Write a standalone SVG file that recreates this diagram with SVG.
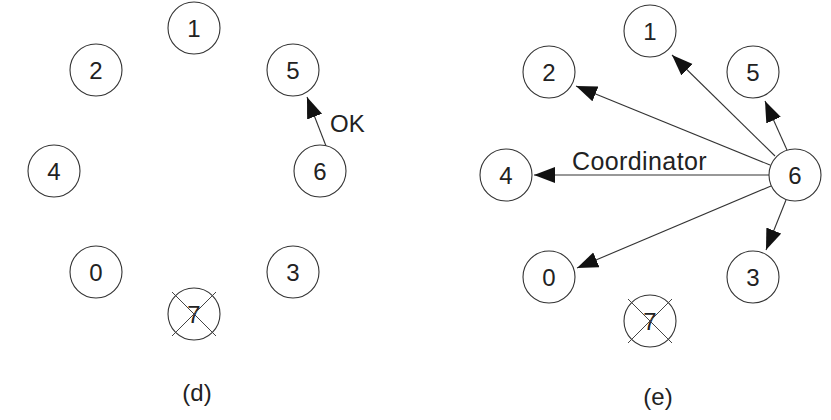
<svg xmlns="http://www.w3.org/2000/svg" width="831" height="420" viewBox="0 0 831 420">
<style>
.n circle{fill:#fff;stroke:#333;stroke-width:1.1}
.n text,.lbl{font-family:"Liberation Sans",Arial,sans-serif;fill:#222}
.n text{font-size:24px;text-anchor:middle}
.lbl{font-size:24px}
.x{stroke:#444;stroke-width:1}
.c line{stroke:#333;stroke-width:1.1;marker-end:url(#ah)}
</style>
<defs>
<marker id="ah" markerUnits="userSpaceOnUse" markerWidth="24" markerHeight="18" refX="21" refY="8" orient="auto">
<path d="M0,0 L21,8 L0,16 z" fill="#111"/>
</marker>
</defs>
<rect width="831" height="420" fill="#fff"/>
<g id="connectors" class="c">
<line x1="326" y1="146" x2="307" y2="97"/>
<line x1="775" y1="156" x2="672" y2="55"/>
<line x1="787" y1="150" x2="765" y2="101"/>
<line x1="770" y1="165" x2="576" y2="86"/>
<line x1="769" y1="175" x2="534" y2="175"/>
<line x1="771" y1="186" x2="577" y2="268"/>
<line x1="786" y1="200" x2="766" y2="250"/>
</g>
<g id="d-1" class="n"><circle cx="194" cy="28" r="26"/><text x="194" y="37">1</text></g>
<g id="d-2" class="n"><circle cx="96" cy="70" r="26"/><text x="96" y="79">2</text></g>
<g id="d-5" class="n"><circle cx="293" cy="70" r="26"/><text x="293" y="79">5</text></g>
<g id="d-4" class="n"><circle cx="54" cy="171" r="26"/><text x="54" y="180">4</text></g>
<g id="d-6" class="n"><circle cx="320" cy="171" r="26"/><text x="320" y="180">6</text></g>
<g id="d-0" class="n"><circle cx="96" cy="272" r="26"/><text x="96" y="281">0</text></g>
<g id="d-3" class="n"><circle cx="293" cy="272" r="26"/><text x="293" y="281">3</text></g>
<g id="d-7" class="n"><circle cx="194" cy="314" r="26"/><text x="194" y="323">7</text><line class="x" x1="172" y1="292" x2="216" y2="336"/><line class="x" x1="216" y1="292" x2="172" y2="336"/></g>
<text class="lbl" x="330" y="132">OK</text>
<text class="lbl" x="197" y="401" text-anchor="middle">(d)</text>
<g id="e-1" class="n"><circle cx="650" cy="31" r="26"/><text x="650" y="40">1</text></g>
<g id="e-2" class="n"><circle cx="549" cy="72" r="26"/><text x="549" y="81">2</text></g>
<g id="e-5" class="n"><circle cx="753" cy="72" r="26"/><text x="753" y="81">5</text></g>
<g id="e-4" class="n"><circle cx="506" cy="175" r="26"/><text x="506" y="184">4</text></g>
<g id="e-6" class="n"><circle cx="795" cy="175" r="26"/><text x="795" y="184">6</text></g>
<g id="e-0" class="n"><circle cx="549" cy="277" r="26"/><text x="549" y="286">0</text></g>
<g id="e-3" class="n"><circle cx="753" cy="277" r="26"/><text x="753" y="286">3</text></g>
<g id="e-7" class="n"><circle cx="650" cy="321" r="26"/><text x="650" y="330">7</text><line class="x" x1="628" y1="299" x2="672" y2="343"/><line class="x" x1="672" y1="299" x2="628" y2="343"/></g>
<text class="lbl" x="572" y="170" style="font-size:25px;letter-spacing:0.4px">Coordinator</text>
<text class="lbl" x="658" y="405" text-anchor="middle">(e)</text>
</svg>
